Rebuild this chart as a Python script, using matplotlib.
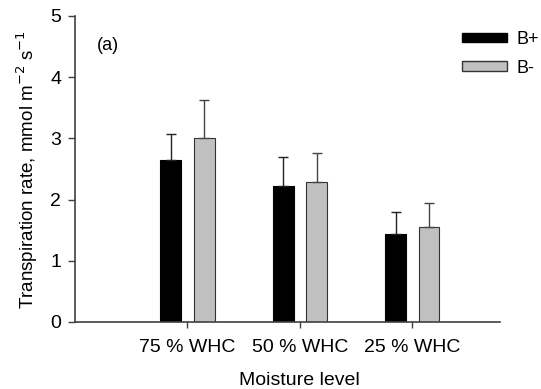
import matplotlib
matplotlib.use("Agg")
import matplotlib.pyplot as plt
import numpy as np
from matplotlib.patches import Patch

plt.rcParams['font.family'] = ['Liberation Sans', 'DejaVu Sans']

categories = ["75 % WHC", "50 % WHC", "25 % WHC"]
b_plus = [2.64, 2.23, 1.43]
b_plus_err = [0.44, 0.47, 0.36]
b_minus = [3.01, 2.29, 1.55]
b_minus_err = [0.61, 0.47, 0.40]

fig = plt.figure(figsize=(5.41, 3.89), dpi=100)
ax = fig.add_axes([75/541, 1 - 322/389, 425/541, 306/389])

x = np.arange(len(categories))
w = 0.185
off = 0.149
ax.bar(x - off, b_plus, w, color='black', edgecolor='black', linewidth=0.8)
ax.bar(x + off, b_minus, w, color='#c0c0c0', edgecolor='#333333', linewidth=0.8)
ax.errorbar(x - off, b_plus, yerr=[np.zeros(3), b_plus_err], fmt='none',
            ecolor='#222222', elinewidth=1, capsize=3.4, capthick=1)
ax.errorbar(x + off, b_minus, yerr=[np.zeros(3), b_minus_err], fmt='none',
            ecolor='#444444', elinewidth=1, capsize=3.4, capthick=1)

ax.set_xlim(-1.0, 2.78)
ax.set_ylim(0, 5)
ax.set_yticks([0, 1, 2, 3, 4, 5])
ax.set_xticks(x)
ax.set_xticklabels(categories, fontsize=14)
ax.tick_params(axis='y', labelsize=14, direction='out', length=5, width=1, color='#404040', pad=5)
ax.tick_params(axis='x', direction='out', length=4, width=1, color='#404040', pad=8)
for s in ['top', 'right']:
    ax.spines[s].set_visible(False)
for s in ['left', 'bottom']:
    ax.spines[s].set_color('#404040')
    ax.spines[s].set_linewidth(1.2)

ax.set_xlabel("Moisture level", fontsize=14, labelpad=12, x=0.527)
ax.set_ylabel("Transpiration rate, mmol m$^{-2}$ s$^{-1}$", fontsize=13.5, labelpad=7)

ax.text(0.052, 0.905, "(a)", transform=ax.transAxes, fontsize=13, ha='left', va='center')

handles = [Patch(facecolor='black', edgecolor='black'),
           Patch(facecolor='#c0c0c0', edgecolor='#333333')]
ax.legend(handles, ["B+", "B-"], loc='upper left', bbox_to_anchor=(0.893, 0.975),
          frameon=False, fontsize=13, handlelength=2.5, handleheight=0.45,
          handletextpad=0.55, labelspacing=0.65, borderaxespad=0)

fig.savefig("out.png", dpi=100)
